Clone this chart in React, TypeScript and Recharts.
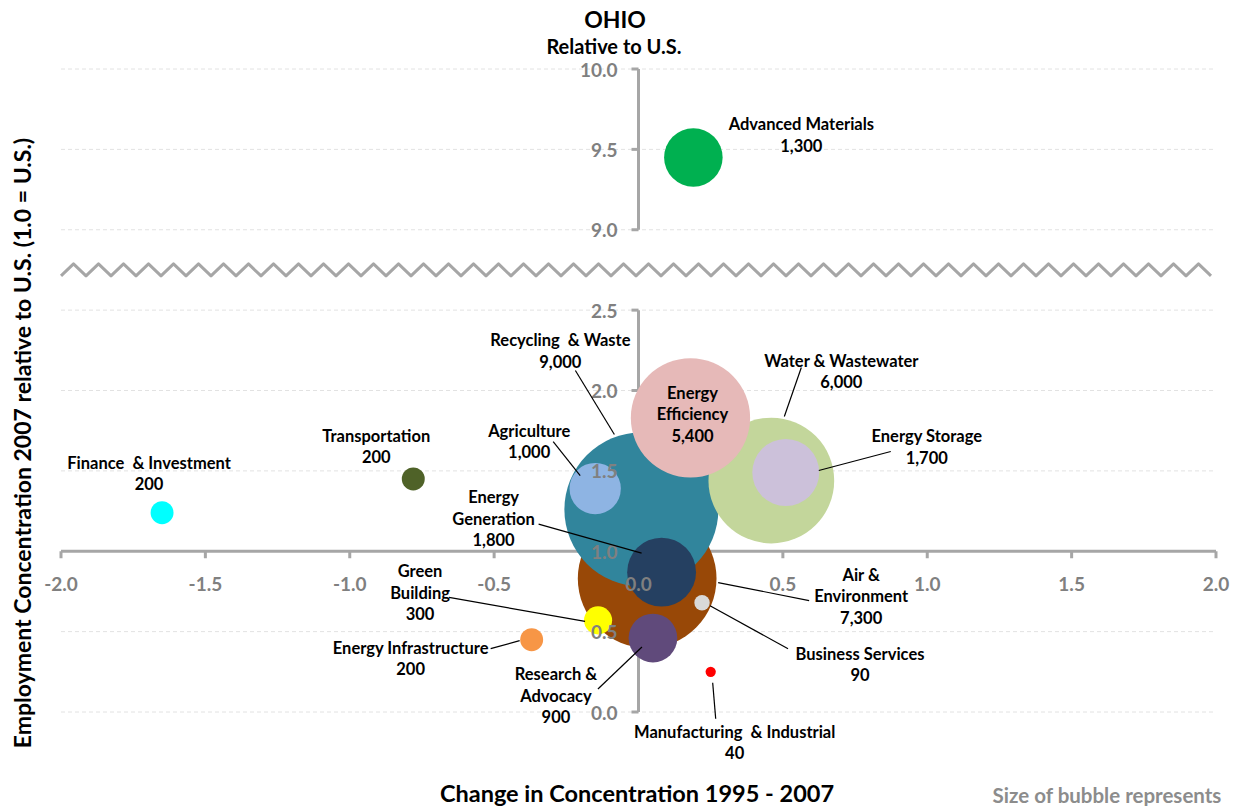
import React from 'react';
import { ScatterChart, Scatter, XAxis, YAxis, ZAxis, Cell, ReferenceLine, ReferenceDot } from 'recharts';

// drawn in this order: big bubbles first so the small ones sit on top
const sectors = [
  'Air & Environment', 'Recycling & Waste', 'Water & Wastewater', 'Energy Efficiency',
  'Energy Generation', 'Agriculture', 'Energy Storage', 'Research & Advocacy',
  'Green Building', 'Business Services', 'Advanced Materials', 'Energy Infrastructure',
  'Manufacturing & Industrial', 'Finance & Investment', 'Transportation',
];
const changeX = [0.03, 0.01, 0.46, 0.18, 0.08, -0.15, 0.51, 0.05, -0.14, 0.22, 0.19, -0.37, 0.25, -1.65, -0.78];
const concY = [0.83, 1.26, 1.44, 1.83, 0.87, 1.39, 1.49, 0.46, 0.57, 0.68, 9.45, 0.45, 0.25, 1.24, 1.45];
const jobs = [7300, 9000, 6000, 5400, 1800, 1000, 1700, 900, 300, 90, 1300, 200, 40, 200, 200];

const xTicks = [-2, -1.5, -1, -0.5, 0, 0.5, 1, 1.5, 2];
const yTicks = [0, 0.5, 1, 1.5, 2, 2.5, 9, 9.5, 10];

const FONT = 'Lato, "Open Sans", sans-serif';
const AXIS = '#a6a6a6';
const TICK_TEXT = '#808080';

const colors: Record<string, string> = {
  'Air & Environment': '#984807',
  'Recycling & Waste': '#31859c',
  'Water & Wastewater': '#c3d69b',
  'Energy Efficiency': '#e6b9b8',
  'Energy Generation': '#254061',
  'Agriculture': '#8eb4e3',
  'Energy Storage': '#ccc1da',
  'Research & Advocacy': '#604a7b',
  'Green Building': '#ffff00',
  'Business Services': '#d9d9d9',
  'Advanced Materials': '#00b050',
  'Energy Infrastructure': '#f79646',
  'Manufacturing & Industrial': '#ff0000',
  'Finance & Investment': '#00ffff',
  'Transportation': '#4f6228',
};

// label placement, in pixels from the bubble centre; lead = leader line
const labelLayout: Record<string, { dx: number; dy: number; lines?: string[]; lead?: number[] }> = {
  'Advanced Materials': { dx: 108, dy: -33 },
  'Recycling & Waste': { dx: -81, dy: -169, lines: ['Recycling  & Waste'], lead: [-66, -139, -27, -75] },
  'Energy Efficiency': { dx: 2, dy: -25, lines: ['Energy', 'Efficiency'] },
  'Water & Wastewater': { dx: 70, dy: -120, lead: [30, -113, 13, -64] },
  'Energy Storage': { dx: 141, dy: -36, lead: [105, -21, 33, -2] },
  'Agriculture': { dx: -66, dy: -58, lead: [-42, -47, -15, -13] },
  'Energy Generation': { dx: -168, dy: -75, lines: ['Energy', 'Generation'], lead: [-123, -48, -20, -19] },
  'Air & Environment': { dx: 214, dy: -4, lines: ['Air &', 'Environment'], lead: [162, 22, 71, 4] },
  'Green Building': { dx: -178, dy: -49, lines: ['Green', 'Building'], lead: [-149, -23, -13, 1] },
  'Energy Infrastructure': { dx: -121, dy: 8, lead: [-41, 9, -12, 1] },
  'Research & Advocacy': { dx: -97, dy: 36, lines: ['Research &', 'Advocacy'], lead: [-55, 51, -11, 9] },
  'Business Services': { dx: 158, dy: 51, lead: [86, 46, 8, 3] },
  'Manufacturing & Industrial': { dx: 24, dy: 60, lines: ['Manufacturing  & Industrial'], lead: [2, 11, 5, 47] },
  'Finance & Investment': { dx: -13, dy: -50, lines: ['Finance  & Investment'] },
  'Transportation': { dx: -37, dy: -43 },
};

// broken y axis: 2.5 is followed directly by 9.0
const brk = (v: number) => (v > 2.5 ? v - 6 : v);

const data = sectors.map((name, i) => ({ name, x: changeX[i], y: brk(concY[i]), size: jobs[i] }));

const Zigzag = (p: any) => {
  const { x1, x2, y1 } = p;
  const pts: string[] = [];
  for (let x = x1, i = 0; x <= x2 + 0.1; x += 12.5, i++) {
    pts.push(`${x},${y1 + (i % 2 === 0 ? 6 : -6)}`);
  }
  return <polyline points={pts.join(' ')} fill="none" stroke={AXIS} strokeWidth={3} strokeLinejoin="round" />;
};

const makeLabel = (name: string, size: number) => (p: any) => {
  const l = labelLayout[name];
  const lines = [...(l.lines || [name]), size.toLocaleString('en-US')];
  const tx = p.cx + l.dx;
  const ty = p.cy + l.dy;
  return (
    <g>
      {l.lead && (
        <line x1={p.cx + l.lead[0]} y1={p.cy + l.lead[1]} x2={p.cx + l.lead[2]} y2={p.cy + l.lead[3]} stroke="#000" strokeWidth={1.2} />
      )}
      <text x={tx} y={ty} textAnchor="middle" fontFamily={FONT} fontWeight="bold" fontSize={16.5} fill="#000" style={{ whiteSpace: 'pre' }}>
        {lines.map((s, k) => (
          <tspan key={k} x={tx} y={ty + k * 21.5} dominantBaseline="central">{s}</tspan>
        ))}
      </text>
    </g>
  );
};

export default function App() {
  return (
    <div style={{ position: 'absolute', left: 0, top: 0, width: 1239, height: 806, background: '#fff' }}>
      <ScatterChart width={1239} height={806} margin={{ top: 69, right: 23, bottom: 94, left: 61 }}>
        <XAxis type="number" dataKey="x" domain={[-2, 2]} ticks={xTicks} hide />
        <YAxis type="number" dataKey="y" domain={[0, 4]} hide />
        <ZAxis type="number" dataKey="size" domain={[0, 9000]} range={[0, Math.PI * 77 * 77]} />

        {yTicks.filter((t) => t !== 1).map((t) => (
          <ReferenceLine key={'g' + t} y={brk(t)} stroke="#e2e2e2" strokeDasharray="4 3" strokeWidth={1} />
        ))}
        <ReferenceLine y={2.75} shape={Zigzag} />
        <ReferenceLine segment={[{ x: 0, y: 0 }, { x: 0, y: 2.5 }]} stroke={AXIS} strokeWidth={3} />
        <ReferenceLine segment={[{ x: 0, y: 3 }, { x: 0, y: 4 }]} stroke={AXIS} strokeWidth={3} />
        <ReferenceLine y={1} stroke={AXIS} strokeWidth={3} />
        {yTicks.map((t) => (
          <ReferenceDot key={'ym' + t} x={0} y={brk(t)} r={0}
            shape={(p: any) => <line x1={p.cx - 7} x2={p.cx} y1={p.cy} y2={p.cy} stroke={AXIS} strokeWidth={3} />} />
        ))}
        {xTicks.map((t) => (
          <ReferenceDot key={'xm' + t} x={t} y={1} r={0}
            shape={(p: any) => <line x1={p.cx} x2={p.cx} y1={p.cy} y2={p.cy + 7} stroke={AXIS} strokeWidth={3} />} />
        ))}

        <Scatter data={data} isAnimationActive={false}>
          {data.map((d) => (
            <Cell key={d.name} fill={colors[d.name]} />
          ))}
        </Scatter>

        {yTicks.map((t) => (
          <ReferenceDot key={'yl' + t} x={0} y={brk(t)} r={0}
            shape={(p: any) => (
              <text x={p.cx - 21} y={p.cy} textAnchor="end" dominantBaseline="central" fontFamily={FONT} fontWeight="bold" fontSize={19} fill={TICK_TEXT}>
                {t.toFixed(1)}
              </text>
            )} />
        ))}
        {xTicks.map((t) => (
          <ReferenceDot key={'xl' + t} x={t} y={1} r={0}
            shape={(p: any) => (
              <text x={p.cx} y={p.cy + 32} textAnchor="middle" dominantBaseline="central" fontFamily={FONT} fontWeight="bold" fontSize={19} fill={TICK_TEXT}>
                {t.toFixed(1)}
              </text>
            )} />
        ))}
        {data.map((d) => (
          <ReferenceDot key={'lab' + d.name} x={d.x} y={d.y} r={0} shape={makeLabel(d.name, d.size)} />
        ))}
      </ScatterChart>

      <svg width={1239} height={806} style={{ position: 'absolute', left: 0, top: 0, pointerEvents: 'none' }}>
        <g fontFamily={FONT} fontWeight="bold" textAnchor="middle" dominantBaseline="central">
          <text x={615} y={19} fontSize={23} fill="#000">OHIO</text>
          <text x={614} y={46} fontSize={20} fill="#000">Relative to U.S.</text>
          <text x={637} y={793} fontSize={23.5} fill="#000">Change in Concentration 1995 - 2007</text>
          <text x={22} y={443} fontSize={23} fill="#000" transform="rotate(-90 22 443)">
            Employment Concentration 2007 relative to U.S. (1.0 = U.S.)
          </text>
          <text x={1107} y={795} fontSize={20.5} fill="#8c8c8c">Size of bubble represents</text>
        </g>
      </svg>
    </div>
  );
}
